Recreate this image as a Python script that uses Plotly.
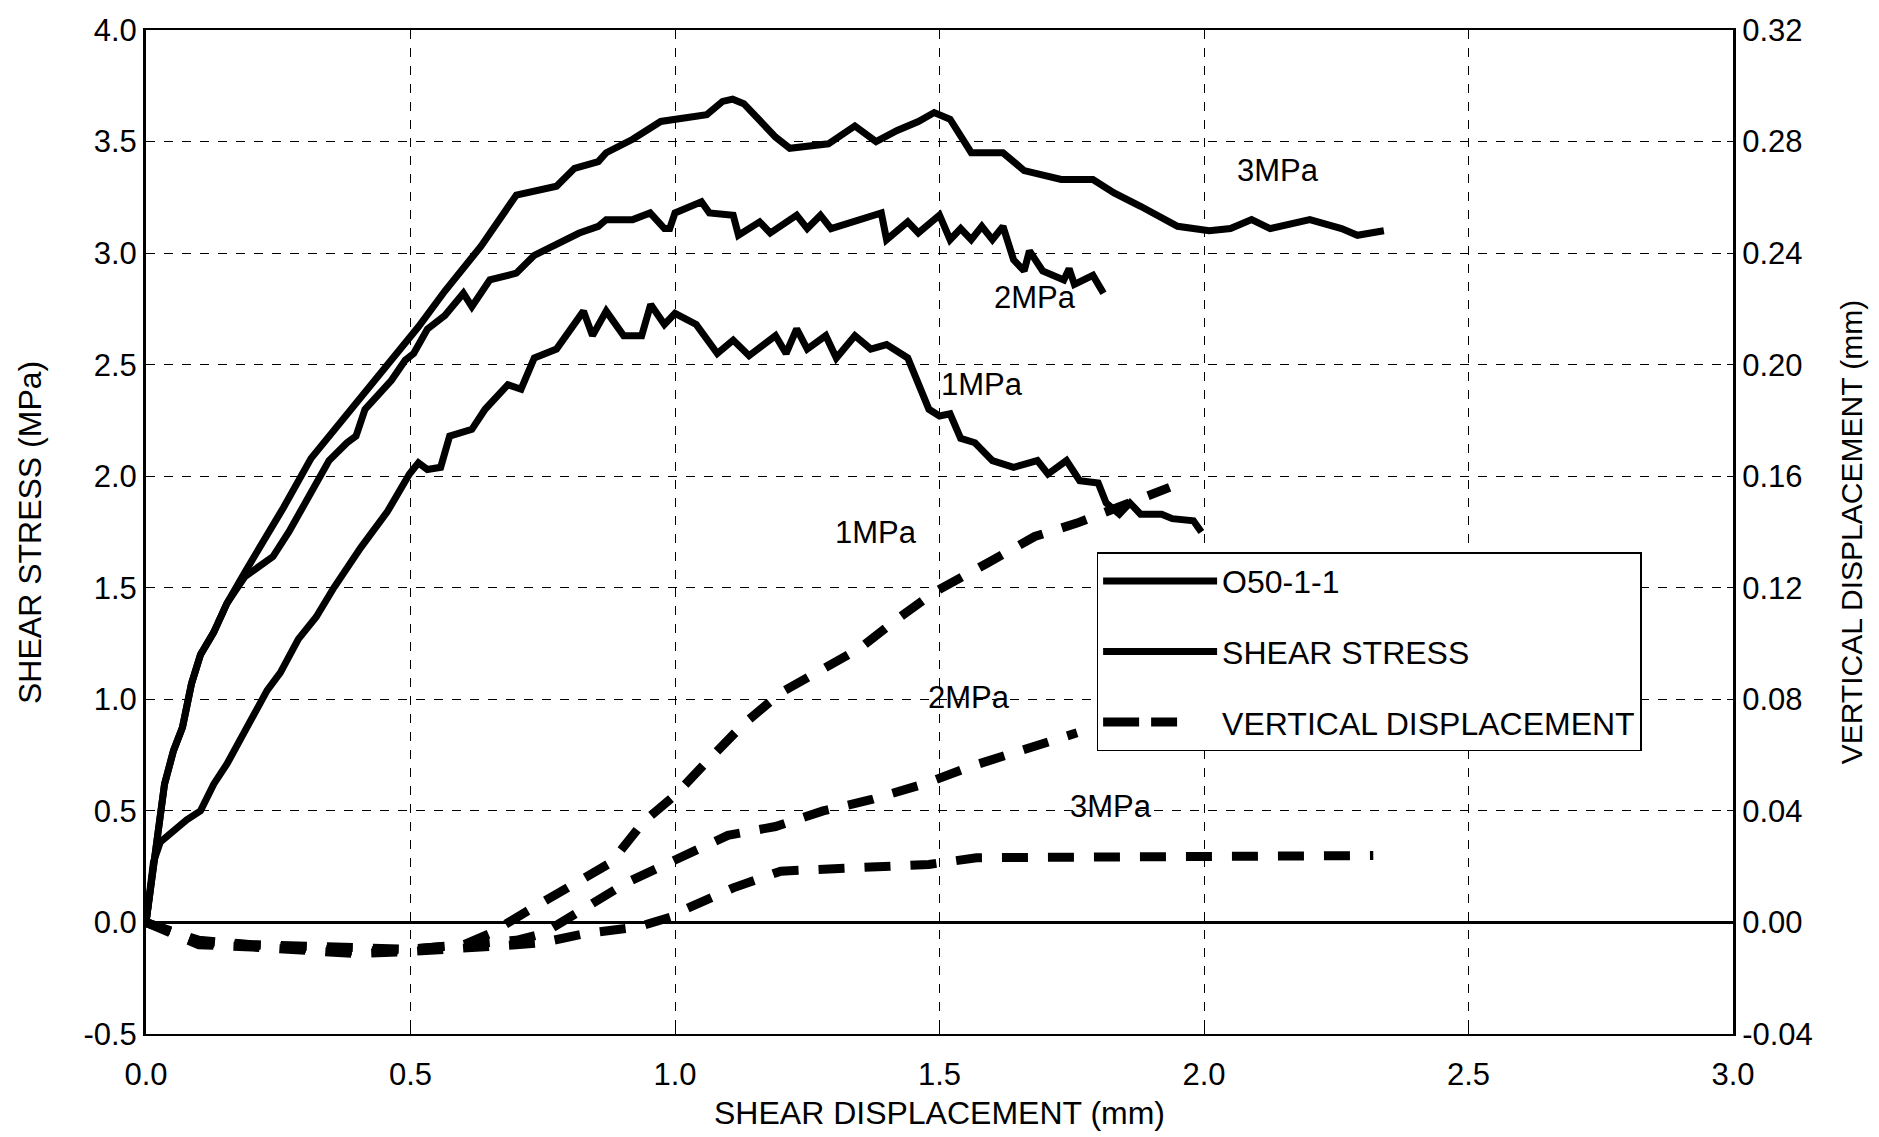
import plotly.graph_objects as go

# ---------------- data ----------------
# Shear stress (MPa) vs shear displacement (mm)
ss3_x = [0, .01, .023, .035, .052, .069, .086, .103, .128, .153, .187, .22, .26, .312, .363, .414, .464, .515,
         .565, .633, .70, .776, .81, .855, .87, .92, .973, 1.0, 1.02, 1.06, 1.09, 1.109, 1.13, 1.16, 1.19, 1.217,
         1.25, 1.29, 1.34, 1.38, 1.42, 1.46, 1.49, 1.52, 1.56, 1.62, 1.66, 1.73, 1.79, 1.83, 1.88, 1.95, 2.01,
         2.05, 2.09, 2.125, 2.2, 2.26, 2.29, 2.34]
ss3_y = [0, .18, .45, .62, .77, .875, 1.07, 1.2, 1.30, 1.43, 1.57, 1.70, 1.86, 2.08, 2.23, 2.38, 2.53, 2.67,
         2.83, 3.03, 3.26, 3.30, 3.38, 3.41, 3.45, 3.51, 3.59, 3.60, 3.61, 3.62, 3.68, 3.69, 3.67, 3.60, 3.52, 3.47,
         3.48, 3.49, 3.57, 3.50, 3.55, 3.59, 3.63, 3.60, 3.45, 3.45, 3.37, 3.33, 3.33, 3.27, 3.21, 3.12, 3.10,
         3.11, 3.15, 3.11, 3.15, 3.11, 3.08, 3.10]

ss2_x = [0, .01, .023, .035, .052, .069, .086, .103, .128, .153, .187, .24, .27, .304, .346, .38, .397, .414,
         .439, .464, .49, .506, .532, .565, .6, .616, .65, .70, .734, .785, .819, .855, .87, .92, .953, .98, .99,
         1.0, 1.05, 1.065, 1.11, 1.12, 1.16, 1.18, 1.23, 1.25, 1.275, 1.295, 1.35, 1.39, 1.40, 1.44, 1.46, 1.50,
         1.52, 1.54, 1.56, 1.58, 1.60, 1.62, 1.64, 1.66, 1.67, 1.695, 1.735, 1.745, 1.755, 1.79, 1.81]
ss2_y = [0, .18, .45, .62, .77, .875, 1.07, 1.2, 1.30, 1.43, 1.55, 1.64, 1.75, 1.89, 2.07, 2.15, 2.18, 2.30,
         2.37, 2.43, 2.52, 2.55, 2.66, 2.72, 2.82, 2.76, 2.88, 2.91, 2.99, 3.05, 3.09, 3.12, 3.15, 3.15, 3.18,
         3.11, 3.11, 3.18, 3.23, 3.18, 3.17, 3.08, 3.14, 3.09, 3.17, 3.11, 3.17, 3.11, 3.15, 3.18, 3.06, 3.14,
         3.09, 3.17, 3.06, 3.11, 3.06, 3.12, 3.06, 3.12, 2.97, 2.92, 3.01, 2.92, 2.88, 2.93, 2.86, 2.90, 2.82]

ss1_x = [0, .014, .027, .052, .077, .103, .128, .153, .178, .204, .229, .254, .288, .322, .355, .406, .456,
         .498, .515, .532, .557, .574, .616, .641, .684, .709, .734, .776, .80, .827, .844, .87, .903, .937,
         .954, .98, 1.0, 1.04, 1.08, 1.11, 1.14, 1.19, 1.21, 1.23, 1.25, 1.285, 1.305, 1.34, 1.37, 1.40, 1.44,
         1.46, 1.48, 1.50, 1.52, 1.54, 1.567, 1.60, 1.64, 1.685, 1.705, 1.74, 1.765, 1.80, 1.815, 1.84, 1.86,
         1.88, 1.92, 1.94, 1.98, 1.995]
ss1_y = [0, .27, .36, .41, .46, .50, .62, .71, .82, .93, 1.04, 1.12, 1.27, 1.37, 1.50, 1.68, 1.84,
         2.01, 2.06, 2.03, 2.04, 2.18, 2.21, 2.30, 2.41, 2.39, 2.53, 2.57, 2.65, 2.74, 2.63, 2.74, 2.63, 2.63,
         2.77, 2.68, 2.73, 2.68, 2.55, 2.61, 2.54, 2.63, 2.55, 2.66, 2.57, 2.63, 2.53, 2.63, 2.57, 2.59, 2.53,
         2.42, 2.30, 2.27, 2.28, 2.17, 2.15, 2.07, 2.04, 2.07, 2.01, 2.07, 1.98, 1.97, 1.88, 1.83, 1.88,
         1.83, 1.83, 1.81, 1.80, 1.75]

# Vertical displacement (mm) vs shear displacement (mm)
vd1_x = [0, .1, .2, .3, .4, .5, .6, .65, .72, .8, .88, .94, 1.0, 1.06, 1.13, 1.2, 1.29, 1.35, 1.42, 1.49,
         1.59, 1.68, 1.76, 1.85, 1.935]
vd1_y = [0, -.0064, -.008, -.0088, -.0096, -.0096, -.008, -.004, .004, .0128, .0216, .036, .0456, .0576,
         .0712, .0824, .092, .0984, .1088, .1184, .1288, .1384, .1432, .1496, .156]

vd2_x = [0, .1, .2, .3, .4, .5, .6, .7, .75, .83, .91, 1.0, 1.1, 1.19, 1.28, 1.37, 1.47, 1.56, 1.65, 1.76]
vd2_y = [0, -.0072, -.008, -.0096, -.0104, -.0096, -.008, -.0064, -.004, .0056, .0144, .0224, .0312, .0344,
         .04, .044, .0496, .056, .0616, .068]

vd3_x = [0, .1, .2, .3, .4, .5, .6, .7, .75, .83, .93, 1.0, 1.02, 1.11, 1.2, 1.29, 1.38, 1.48, 1.57, 1.66,
         1.75, 1.84, 1.93, 2.02, 2.12, 2.22, 2.32]
vd3_y = [0, -.008, -.0088, -.0104, -.0112, -.0104, -.0096, -.008, -.0072, -.004, -.0016, .0024, .0048, .0124,
         .0184, .0192, .0192, .0208, .0232, .0232, .024, .024, .024, .024, .024, .024, .024]

# Curve labels: (text, x, y on the shear-stress axis)
label_text = ["3MPa", "2MPa", "1MPa", "1MPa", "2MPa", "3MPa"]
label_x = [2.14, 1.68, 1.58, 1.38, 1.555, 1.825]
label_y = [3.37, 2.80, 2.41, 1.75, 1.01, 0.52]

x_ticks = [0, 0.5, 1.0, 1.5, 2.0, 2.5, 3.0]
x_ticklabels = ["0.0", "0.5", "1.0", "1.5", "2.0", "2.5", "3.0"]
y_ticks = [-0.5, 0, 0.5, 1.0, 1.5, 2.0, 2.5, 3.0, 3.5, 4.0]
y_ticklabels = ["-0.5", "0.0", "0.5", "1.0", "1.5", "2.0", "2.5", "3.0", "3.5", "4.0"]
y2_ticks = [-0.04, 0, 0.04, 0.08, 0.12, 0.16, 0.20, 0.24, 0.28, 0.32]
y2_ticklabels = ["-0.04", "0.00", "0.04", "0.08", "0.12", "0.16", "0.20", "0.24", "0.28", "0.32"]

legend_names = ["O50-1-1", "SHEAR STRESS", "VERTICAL DISPLACEMENT"]
y_title = "SHEAR STRESS (MPa)"

# ---------------- figure ----------------
FONT = "Arial, 'Liberation Sans', Helvetica, sans-serif"
BLACK = "#000000"
SS_W = 7
VD_W = 9
VD_DASH = "26px,20px"

fig = go.Figure()

# data traces (legend entries are separate, below)
for xs, ys in [(ss3_x, ss3_y), (ss2_x, ss2_y), (ss1_x, ss1_y)]:
    fig.add_trace(go.Scatter(x=xs, y=ys, mode="lines", line=dict(color=BLACK, width=SS_W),
                             showlegend=False, hoverinfo="x+y"))

for xs, ys in [(vd1_x, vd1_y), (vd2_x, vd2_y), (vd3_x, vd3_y)]:
    fig.add_trace(go.Scatter(x=xs, y=ys, mode="lines", yaxis="y2",
                             line=dict(color=BLACK, width=VD_W, dash=VD_DASH),
                             showlegend=False, hoverinfo="x+y"))

# legend entries
legend_styles = [dict(color=BLACK, width=SS_W),
                 dict(color=BLACK, width=SS_W),
                 dict(color=BLACK, width=VD_W, dash="36px,12px,26px,200px")]
for i, (nm, st) in enumerate(zip(legend_names, legend_styles)):
    fig.add_trace(go.Scatter(x=[None], y=[None], mode="lines", name=nm, line=st,
                             legendgroup="g%d" % i, showlegend=True))

for t, lx, ly in zip(label_text, label_x, label_y):
    fig.add_annotation(x=lx, y=ly, xref="x", yref="y", text=t, showarrow=False,
                       font=dict(family=FONT, size=31, color=BLACK))

# left axis title placed as a rotated annotation (further left than plotly's auto position)
fig.add_annotation(x=-0.0731, y=0.5, xref="paper", yref="paper", text=y_title,
                   textangle=-90, showarrow=False, xanchor="center", yanchor="middle",
                   font=dict(family=FONT, size=32, color=BLACK))

fig.update_layout(
    width=1879, height=1137,
    margin=dict(l=146, r=146, t=30, b=101),
    paper_bgcolor="white", plot_bgcolor="white",
    font=dict(family=FONT, size=30, color=BLACK),
    showlegend=True,
    legend=dict(x=0.599, y=0.48, xanchor="left", yanchor="top",
                bgcolor="white", bordercolor=BLACK, borderwidth=1.5,
                font=dict(family=FONT, size=32, color=BLACK),
                traceorder="grouped", tracegroupgap=26, itemwidth=114,
                itemclick=False, itemdoubleclick=False),
    xaxis=dict(range=[0, 3], tickvals=x_ticks, ticktext=x_ticklabels,
               tickfont=dict(size=31),
               showgrid=True, gridcolor=BLACK, gridwidth=1.3, griddash="dash",
               showline=True, linecolor=BLACK, linewidth=2, mirror=True,
               ticks="inside", ticklen=6, tickcolor=BLACK, ticklabelstandoff=12,
               zeroline=False,
               title=dict(text="SHEAR DISPLACEMENT (mm)", standoff=10,
                          font=dict(family=FONT, size=32, color=BLACK))),
    yaxis=dict(range=[-0.5, 4.0], tickvals=y_ticks, ticktext=y_ticklabels,
               tickfont=dict(size=31),
               showgrid=True, gridcolor=BLACK, gridwidth=1.3, griddash="dash",
               showline=True, linecolor=BLACK, linewidth=3,
               ticks="inside", ticklen=6, tickcolor=BLACK,
               zeroline=True, zerolinecolor=BLACK, zerolinewidth=2.5),
    yaxis2=dict(range=[-0.04, 0.32], tickvals=y2_ticks, ticktext=y2_ticklabels,
                tickfont=dict(size=31),
                overlaying="y", side="right", showgrid=False, zeroline=False,
                showline=True, linecolor=BLACK, linewidth=3,
                ticks="inside", ticklen=6, tickcolor=BLACK,
                title=dict(text="VERTICAL DISPLACEMENT (mm)", standoff=30,
                           font=dict(family=FONT, size=30, color=BLACK))),
)

fig.write_html("out.html")
